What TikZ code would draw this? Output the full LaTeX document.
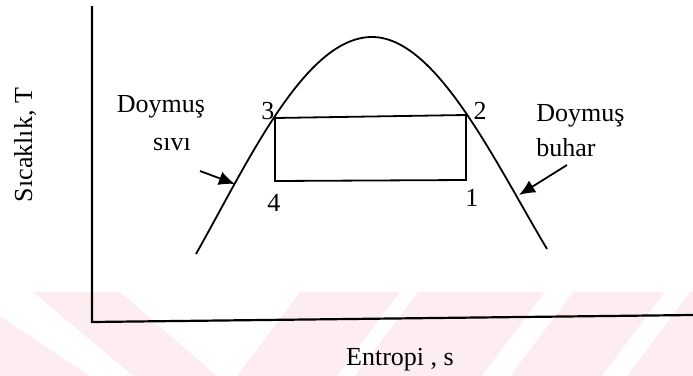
\documentclass[tikz,border=0pt]{standalone}
\usepackage{fontspec}
\setmainfont{Liberation Serif}
\usetikzlibrary{arrows.meta, positioning}
\definecolor{wmPink}{RGB}{253, 237, 241}

\begin{document}
\begin{tikzpicture}[x=0.5pt, y=-0.5pt,
    axis/.style={line width=1.1pt, black},
    curve/.style={line width=0.9pt, black},
    pointer/.style={-{Latex[length=8pt, width=7pt]}, line width=0.9pt},
    lbl/.style={inner sep=0pt, font=\fontsize{13}{15}\selectfont}
]
\useasboundingbox (0,0) rectangle (693,376);

% Faint watermark band at the bottom
\fill[wmPink] (0,292) rectangle (693,376);
\fill[white] (0,292) -- (33,292) -- (133,376) -- (90,376) -- (0,316) -- cycle;
\fill[white] (120,292) -- (300,292) -- (237,376) -- (217,376) -- cycle;
\fill[white] (400,292) -- (418,292) -- (355,376) -- (337,376) -- cycle;
\fill[white] (545,292) -- (573,292) -- (510,376) -- (482,376) -- cycle;
\fill[white] (665,292) -- (690,292) -- (627,376) -- (602,376) -- cycle;

% Axes
\coordinate (ytop)   at (92,6);
\coordinate (origin) at (92,322);
\coordinate (xend)   at (693,315);
\draw[axis] (ytop) -- (origin) -- (xend);

% Saturation dome
\coordinate (liqEnd) at (196,254);
\coordinate (peak)   at (372,37);
\coordinate (vapEnd) at (547,249);
\draw[curve] (liqEnd) .. controls (248,162) and (305,37) .. (peak)
             .. controls (436,37) and (494,160) .. (vapEnd);

% Cycle 1-2-3-4
\coordinate (p3) at (275,118);
\coordinate (p2) at (466,115);
\coordinate (p1) at (466,180);
\coordinate (p4) at (275,181);
\draw[curve] (p3) -- (p2) -- (p1) -- (p4) -- cycle;

% Labels
\node[lbl] (n3) at (268,111) {3};
\node[lbl] (n2) at (480,111) {2};
\node[lbl] (n4) at (274,203) {4};
\node[lbl] (n1) at (472,198) {1};

\node[lbl] (liqTop) at (161,107) {Doymuş};
\node[lbl] (liqBot) at (172,144) {sıvı};
\node[lbl, anchor=west] (vapTop) at (536,116) {Doymuş};
\node[lbl, anchor=west] (vapBot) at (536,148) {buhar};

\node[lbl] (xlabel) at (400,360) {Entropi , s};
\node[lbl, rotate=90] (ylabel) at (25,145) {Sıcaklık, T};

% Pointers
\coordinate (liqTail) at (200,171);
\coordinate (liqTip)  at (235,184);
\coordinate (vapTail) at (567,165);
\coordinate (vapTip)  at (519,195);
\draw[pointer] (liqTail) -- (liqTip);
\draw[pointer] (vapTail) -- (vapTip);

\end{tikzpicture}
\end{document}
